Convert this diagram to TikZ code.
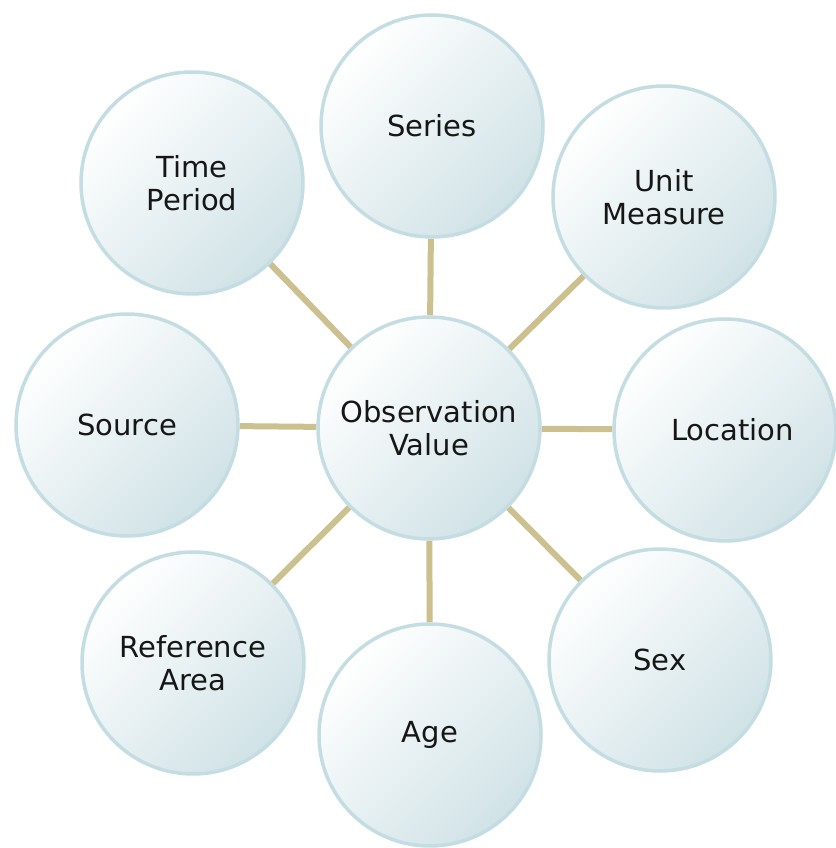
\documentclass[tikz,border=0pt]{standalone}
\usepackage{tikz}
\usepackage{fontspec}
\setmainfont{DejaVu Sans}
\usepackage{color}
\usetikzlibrary{backgrounds}

\definecolor{bubbleedge}{RGB}{196,221,226}
\definecolor{bubblefill}{RGB}{208,226,230}
\definecolor{spoke}{RGB}{203,192,142}
\definecolor{labeltext}{RGB}{22,22,22}

\tikzset{
	bubble/.style={draw=bubbleedge,line width=0.07cm,circle,shading=axis,top color=white,bottom color=bubblefill,shading angle=45,minimum size=4.44cm,align=center,text=labeltext,font=\fontsize{16.5}{18.5}\selectfont},
	spokeline/.style={spoke,line width=0.12cm}
}

\begin{document}
\begin{tikzpicture}
	\useasboundingbox (0,0) rectangle (16.70,16.96);

	\coordinate (obs) at (8.58,8.40);
	\coordinate (series) at (8.64,14.44);
	\coordinate (unit) at (13.28,13.02);
	\coordinate (loc) at (14.50,8.36);
	\coordinate (sex) at (13.20,3.76);
	\coordinate (age) at (8.60,2.26);
	\coordinate (ref) at (3.86,3.70);
	\coordinate (src) at (2.54,8.46);
	\coordinate (time) at (3.84,13.30);

	\node[bubble] (ObsNode) at (obs){Observation\\Value};
	\node[bubble] (SeriesNode) at (series){Series};
	\node[bubble] (UnitNode) at (unit){Unit\\Measure};
	\node[bubble] (LocNode) at (loc){\hspace{0.3cm}Location};
	\node[bubble] (SexNode) at (sex){Sex};
	\node[bubble] (AgeNode) at (age){Age};
	\node[bubble] (RefNode) at (ref){Reference\\Area};
	\node[bubble] (SrcNode) at (src){Source};
	\node[bubble] (TimeNode) at (time){Time\\Period};

	\begin{scope}[on background layer]
		\fill[white] (0,0) rectangle (16.70,16.96);
		\draw[spokeline] (ObsNode) -- (SeriesNode);
		\draw[spokeline] (ObsNode) -- (UnitNode);
		\draw[spokeline] (ObsNode) -- (LocNode);
		\draw[spokeline] (ObsNode) -- (SexNode);
		\draw[spokeline] (ObsNode) -- (AgeNode);
		\draw[spokeline] (ObsNode) -- (RefNode);
		\draw[spokeline] (ObsNode) -- (SrcNode);
		\draw[spokeline] (ObsNode) -- (TimeNode);
	\end{scope}
\end{tikzpicture}
\end{document}
